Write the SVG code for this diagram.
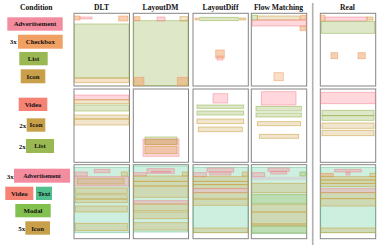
<svg xmlns="http://www.w3.org/2000/svg" width="378" height="245" viewBox="0 0 378 245">
<style>
text{font-family:"Liberation Serif","Times New Roman",serif;font-weight:bold;fill:#111;}
.h{font-size:7.6px;text-anchor:middle;}
.l{font-size:6.8px;text-anchor:middle;}
.n{font-size:7px;text-anchor:end;}
.frame{fill:#fff;stroke:#858585;stroke-width:1;}
.cAd{fill:#f48ca0;}
.cCb{fill:#f0a062;}
.cLi{fill:#9ab852;}
.cIc{fill:#c9a04a;}
.cVi{fill:#f58272;}
.cTx{fill:#52c08e;}
.cMo{fill:#82c050;}
.pk{fill:rgba(255,135,150,0.33);stroke:rgba(240,120,135,0.55);stroke-width:0.8;}
.or{fill:rgba(240,160,100,0.5);stroke:rgba(240,150,90,0.6);stroke-width:0.8;}
.gr{fill:rgba(160,190,100,0.35);stroke:rgba(145,175,75,0.65);stroke-width:0.8;}
.tn{fill:rgba(210,170,90,0.3);stroke:rgba(200,160,60,0.65);stroke-width:0.8;}
.te{fill:rgba(130,215,175,0.4);stroke:rgba(90,185,140,0.6);stroke-width:0.8;}
</style>

<!-- headers -->
<g id="headers">
<text class="h" x="36.3" y="9.6">Condition</text>
<text class="h" x="101.5" y="9.6">DLT</text>
<text class="h" x="160.5" y="9.6">LayoutDM</text>
<text class="h" x="220.5" y="9.6">LayoutDiff</text>
<text class="h" x="278.5" y="9.6">Flow Matching</text>
<text class="h" x="347.5" y="9.6">Real</text>
</g>
<line x1="312.7" y1="3" x2="312.7" y2="245" stroke="#b0b0b0" stroke-width="1.6"/>

<!-- Row 1 condition -->
<g id="cond1">
<rect class="cAd" x="7.3" y="17.3" width="55.4" height="13.4"/><text class="l" x="35" y="26.4">Advertisement</text>
<text class="n" x="16.8" y="44.2">3x</text>
<rect class="cCb" x="18" y="34.7" width="44.7" height="14"/><text class="l" x="40.3" y="44.2">Checkbox</text>
<rect class="cLi" x="19.3" y="52" width="28.4" height="13.3"/><text class="l" x="33.5" y="61.1">List</text>
<rect class="cIc" x="20.7" y="69.3" width="24.6" height="14"/><text class="l" x="33" y="78.7">Icon</text>
</g>

<!-- Row 2 condition -->
<g id="cond2">
<rect class="cVi" x="18.7" y="97.7" width="28.6" height="13.3"/><text class="l" x="33" y="106.8">Video</text>
<text class="n" x="26.2" y="127.6">2x</text>
<rect class="cIc" x="26.7" y="118.3" width="18.6" height="13.4"/><text class="l" x="36" y="127.4">Icon</text>
<text class="n" x="25.7" y="148.6">2x</text>
<rect class="cLi" x="26" y="139" width="28" height="14"/><text class="l" x="40" y="148.4">List</text>
</g>

<!-- Row 3 condition -->
<g id="cond3">
<text class="n" x="13.7" y="178.6">3x</text>
<rect class="cAd" x="14" y="168.7" width="56" height="14"/><text class="l" x="42" y="178" style="font-size:6px">Advertisement</text>
<rect class="cVi" x="5.3" y="186.7" width="28" height="13.3"/><text class="l" x="19.3" y="195.9">Video</text>
<rect class="cTx" x="36" y="186.7" width="16" height="13.3"/><text class="l" x="44" y="195.9">Text</text>
<rect class="cMo" x="15.3" y="204" width="35.4" height="13.3"/><text class="l" x="33" y="213.1">Modal</text>
<text class="n" x="25.2" y="231.1">5x</text>
<rect class="cIc" x="25.3" y="221.3" width="24.7" height="13.4"/><text class="l" x="37.6" y="230.6">Icon</text>
</g>

<!-- Row 1 panels -->
<g id="r1-dlt">
<rect class="frame" x="74" y="13.3" width="55.5" height="72.7"/>
<rect class="gr" x="74.5" y="24" width="54.5" height="54"/>
<rect class="tn" x="74.5" y="78" width="54.5" height="4.7" style="fill:rgba(235,180,120,0.4)"/>
<rect class="or" x="74.5" y="16" width="5.5" height="4"/>
<rect class="pk" x="80" y="17" width="12" height="2"/>
<rect class="or" x="118.7" y="16" width="9.3" height="5"/>
</g>
<g id="r1-layoutdm">
<rect class="frame" x="133.3" y="13.3" width="55.2" height="72.7"/>
<rect class="gr" x="133.7" y="20.7" width="54.3" height="64.9"/>
<rect class="or" x="134" y="77.3" width="10" height="8"/>
<rect class="or" x="177.3" y="77.3" width="10.4" height="8"/>
<rect class="or" x="134" y="16.7" width="6" height="4"/>
<rect class="pk" x="157" y="17" width="8" height="4"/>
<rect class="tn" x="180" y="16.7" width="7.7" height="4.3"/>
</g>
<g id="r1-layoutdiff">
<rect class="frame" x="193" y="13.3" width="55.3" height="72.7"/>
<rect class="or" x="195" y="18" width="3.3" height="2"/>
<rect class="gr" x="199.7" y="17.3" width="38.6" height="3.4"/>
<rect class="tn" x="239.7" y="18" width="6" height="2" style="fill:rgba(235,170,110,0.45)"/>
<rect class="pk" x="217" y="56" width="6" height="4"/>
<rect class="or" x="215.7" y="50" width="8.6" height="8"/>
</g>
<g id="r1-flow">
<rect class="frame" x="251.3" y="13.3" width="55.4" height="72.7"/>
<rect class="gr" x="252" y="15.3" width="5.3" height="4.7"/>
<rect class="tn" x="257.3" y="16" width="42.7" height="4"/>
<rect class="or" x="300.7" y="15.3" width="5.3" height="4.7"/>
<rect class="pk" x="252" y="20" width="54.3" height="6"/>
<rect class="or" x="300" y="26" width="6" height="4.7"/>
<rect class="or" x="274" y="72.7" width="9.3" height="8" style="fill:rgba(240,160,100,0.35)"/>
</g>
<g id="r1-real">
<rect class="frame" x="320.3" y="13.3" width="55.4" height="72.7"/>
<rect class="pk" x="325" y="17" width="42" height="4"/>
<rect class="tn" x="367" y="17" width="6" height="3" style="fill:rgba(235,170,110,0.45)"/>
<rect class="or" x="320.7" y="15.3" width="4.3" height="6"/>
<rect class="gr" x="321.3" y="21.3" width="53.4" height="12"/>
<rect class="or" x="331" y="52.7" width="6.7" height="6"/>
<rect class="or" x="358" y="52.7" width="7.3" height="6"/>
</g>

<!-- Row 2 panels -->
<g id="r2-dlt">
<rect class="frame" x="74" y="89" width="55.5" height="73.3"/>
<rect class="pk" x="74.5" y="95" width="54.5" height="5"/>
<rect class="tn" x="74.5" y="99.7" width="54.5" height="4"/>
<rect class="gr" x="74.5" y="105" width="54.5" height="6"/>
<rect class="tn" x="74.5" y="115" width="54.5" height="4"/>
<rect class="tn" x="74.5" y="119" width="54.5" height="6"/>
</g>
<g id="r2-layoutdm">
<rect class="frame" x="133.3" y="89" width="55.2" height="73.3"/>
<rect class="gr" x="145" y="137" width="32" height="7.3"/>
<rect class="pk" x="143" y="139" width="36" height="17.3"/>
<rect class="tn" x="145" y="139.5" width="32" height="5" style="fill:rgba(210,160,80,0.35)"/>
<rect class="tn" x="145" y="146.3" width="32" height="7.4" style="fill:rgba(210,160,80,0.35)"/>
</g>
<g id="r2-layoutdiff">
<rect class="frame" x="193" y="89" width="55.3" height="73.3"/>
<rect class="pk" x="213" y="93.7" width="14.7" height="9.3"/>
<rect class="gr" x="197" y="105" width="46.7" height="3.3"/>
<rect class="gr" x="197" y="111" width="46.7" height="4"/>
<rect class="tn" x="197" y="119" width="46.7" height="4.7"/>
<rect class="tn" x="198.3" y="127" width="44" height="4.7"/>
</g>
<g id="r2-flow">
<rect class="frame" x="251.3" y="89" width="55.4" height="73.3"/>
<rect class="pk" x="261.3" y="91.7" width="34.7" height="13.3"/>
<rect class="gr" x="256" y="106.3" width="45.3" height="4.7"/>
<rect class="gr" x="256" y="113" width="45.3" height="4"/>
<rect class="tn" x="257.3" y="121.7" width="43.4" height="4"/>
<rect class="tn" x="259.3" y="134.3" width="39.4" height="4"/>
</g>
<g id="r2-real">
<rect class="frame" x="320.3" y="89" width="55.4" height="73.3"/>
<rect class="pk" x="320.7" y="92.3" width="54.6" height="11.4"/>
<rect class="gr" x="322" y="110.3" width="52" height="5.4"/>
<rect class="gr" x="322" y="115.7" width="52" height="4.6"/>
<rect class="tn" x="322" y="123" width="52" height="5.3"/>
<rect class="tn" x="322" y="130.3" width="52" height="5.4"/>
</g>

<!-- Row 3 panels -->
<g id="r3-dlt">
<rect class="frame" x="74" y="164.7" width="55.5" height="74"/>
<rect class="te" x="74.5" y="167.3" width="54.5" height="65.4"/>
<rect class="pk" x="74.5" y="176.7" width="54.5" height="9.3"/>
<rect class="tn" x="77.3" y="178.7" width="46.7" height="5.3"/>
<rect class="pk" x="75" y="172" width="12.3" height="4"/>
<rect class="pk" x="94.3" y="169.3" width="15.7" height="3.4"/>
<rect class="tn" x="121.3" y="172" width="6" height="4"/>
<rect class="tn" x="75.3" y="188" width="52" height="5.3"/>
<rect class="tn" x="75.3" y="194.7" width="52" height="4"/>
<rect class="tn" x="75.3" y="199.3" width="52" height="3.4"/>
<rect class="tn" x="75.3" y="206" width="52" height="6"/>
<rect class="tn" x="75.3" y="223.3" width="52" height="7.4"/>
</g>
<g id="r3-layoutdm">
<rect class="frame" x="133.3" y="164.7" width="55.2" height="74"/>
<rect class="te" x="133.7" y="166" width="54.3" height="66"/>
<rect class="pk" x="147" y="168.7" width="27.3" height="4.6"/>
<line x1="151" y1="171.8" x2="171" y2="171.8" stroke="rgba(240,90,110,0.7)" stroke-width="1"/>
<rect class="pk" x="133.7" y="172.7" width="12.6" height="3.3"/>
<rect class="tn" x="182.3" y="172" width="5.4" height="4"/>
<rect class="tn" x="133.7" y="176" width="54.3" height="5.3"/>
<rect class="tn" x="133.7" y="181.3" width="54.3" height="4.7"/>
<rect class="tn" x="133.7" y="186" width="54.3" height="11.3"/>
<rect class="pk" x="133.7" y="200.7" width="54.3" height="3.3"/>
<rect class="tn" x="133.7" y="204" width="54.3" height="6.7"/>
<rect class="tn" x="133.7" y="212" width="54.3" height="6.7"/>
<rect class="tn" x="133.7" y="222.7" width="54.3" height="7.3"/>
</g>
<g id="r3-layoutdiff">
<rect class="frame" x="193" y="164.7" width="55.3" height="74"/>
<rect class="te" x="193.4" y="167.3" width="54.6" height="65.4"/>
<rect class="pk" x="207" y="168" width="26.7" height="4"/>
<rect class="pk" x="209.7" y="172" width="21.3" height="3"/>
<rect class="pk" x="193.7" y="172.7" width="12.6" height="4"/>
<rect class="tn" x="242.3" y="172" width="5.7" height="4"/>
<rect class="tn" x="193.4" y="176.7" width="54.6" height="4.6"/>
<rect class="tn" x="193.4" y="181.3" width="54.6" height="3.4"/>
<rect class="tn" x="193.4" y="184.7" width="54.6" height="3.6"/>
<rect class="pk" x="193.4" y="188.7" width="54.6" height="4"/>
<rect class="tn" x="193.4" y="192.7" width="54.6" height="5.6"/>
<rect class="tn" x="193.4" y="199.3" width="54.6" height="6"/>
<rect class="tn" x="193.4" y="228" width="54.6" height="4.7"/>
</g>
<g id="r3-flow">
<rect class="frame" x="251.3" y="164.7" width="55.4" height="74"/>
<rect class="te" x="251.7" y="167.3" width="54.7" height="66"/>
<rect class="pk" x="268" y="168" width="21.3" height="3.3"/>
<rect class="pk" x="270.7" y="171.3" width="16" height="2.7"/>
<rect class="pk" x="252" y="172.7" width="12.7" height="4"/>
<rect class="gr" x="300" y="172" width="6" height="4"/>
<rect x="251.7" y="176.7" width="54.7" height="3.3" fill="rgba(220,180,200,0.35)"/>
<rect class="tn" x="251.7" y="183.3" width="54.7" height="9.4"/>
<rect class="gr" x="251.7" y="194.7" width="54.7" height="8.6"/>
<rect class="tn" x="251.7" y="204.7" width="54.7" height="7.3"/>
<rect class="tn" x="251.7" y="212" width="54.7" height="12"/>
<rect class="tn" x="251.7" y="224" width="54.7" height="2"/>
<rect class="gr" x="251.7" y="226" width="54.7" height="7"/>
</g>
<g id="r3-real">
<rect class="frame" x="320.3" y="164.7" width="55.4" height="74"/>
<rect class="te" x="320.7" y="167.3" width="54.8" height="65.4"/>
<rect class="pk" x="334.7" y="169.3" width="26.6" height="2.7"/>
<rect class="pk" x="346" y="172" width="4" height="3"/>
<rect class="or" x="320.7" y="173.3" width="12.6" height="3.4"/>
<rect class="tn" x="370" y="173.3" width="5.5" height="3.4"/>
<rect class="tn" x="320.7" y="176.7" width="54.8" height="3.3"/>
<rect class="tn" x="320.7" y="180" width="54.8" height="3.3"/>
<rect class="tn" x="320.7" y="183.3" width="54.8" height="3.4"/>
<rect class="pk" x="320.7" y="188.7" width="54.8" height="4"/>
<rect class="tn" x="320.7" y="192.7" width="54.8" height="6"/>
<rect class="tn" x="320.7" y="198.7" width="54.8" height="7.3"/>
<rect class="tn" x="320.7" y="228" width="54.8" height="4.7"/>
</g>
</svg>
